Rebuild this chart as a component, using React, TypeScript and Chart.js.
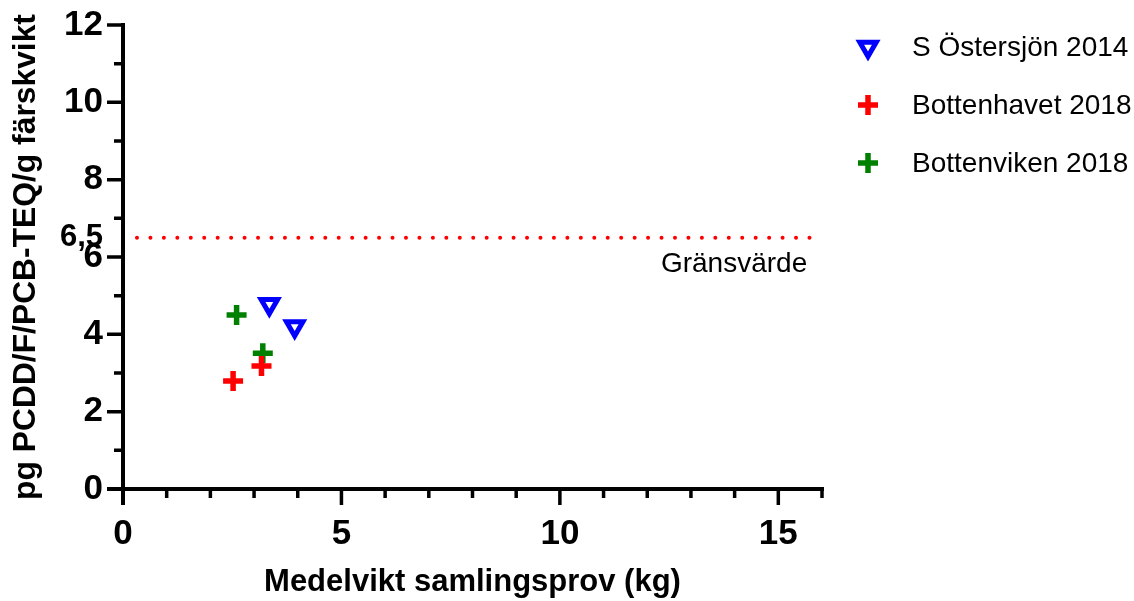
import React, { useEffect, useRef } from 'react';
import { Chart, registerables } from 'chart.js';

Chart.register(...registerables);

// ---- Data ----
const seriesNames = ['S Östersjön 2014', 'Bottenhavet 2018', 'Bottenviken 2018'];
const seriesColors = ['#0000FF', '#FF0000', '#008000'];
const ostersjonX = [3.35, 3.93];
const ostersjonY = [4.78, 4.2];
const bottenhavetX = [2.52, 3.17];
const bottenhavetY = [2.79, 3.18];
const bottenvikenX = [2.6, 3.2];
const bottenvikenY = [4.5, 3.51];

const thresholdValue = 6.5;
const thresholdLabel = '6,5';
const thresholdText = 'Gränsvärde';
const thresholdXRange = [0.32, 15.73];

const xTitle = 'Medelvikt samlingsprov (kg)';
const yTitle = 'pg PCDD/F/PCB-TEQ/g färskvikt';
const xMin = 0;
const xMax = 16;
const yMin = 0;
const yMax = 12;
const xLabelEvery = 5;
const yLabelEvery = 2;

const FONT = "'Liberation Sans', Arial, sans-serif";

const toPoints = (xs: number[], ys: number[]) => xs.map((x, i) => ({ x, y: ys[i] }));

const MAJOR = 16;
const MINOR = 9;
const TRI_R = 9.5;
const TRI_W = 5;
const CROSS_R = 10;
const CROSS_W = 5.5;

const axesPlugin = {
  id: 'prismAxes',
  beforeDatasetsDraw(chart: any) {
    const { ctx, scales } = chart;
    const xs = scales.x;
    const ys = scales.y;
    const x0 = xs.getPixelForValue(xMin);
    const y0 = ys.getPixelForValue(yMin);
    const xEnd = xs.getPixelForValue(xMax);
    const yTop = ys.getPixelForValue(yMax);
    ctx.save();
    ctx.strokeStyle = '#000';
    ctx.lineCap = 'butt';
    ctx.lineWidth = 4;
    ctx.beginPath();
    ctx.moveTo(x0, yTop - 2);
    ctx.lineTo(x0, y0 + MAJOR);
    ctx.moveTo(x0 - MAJOR, y0);
    ctx.lineTo(xEnd + 2, y0);
    ctx.stroke();
    ctx.lineWidth = 3.5;
    ctx.beginPath();
    for (let v = yMin + 1; v <= yMax; v++) {
      const len = v % yLabelEvery === 0 ? MAJOR : MINOR;
      const py = ys.getPixelForValue(v);
      ctx.moveTo(x0, py);
      ctx.lineTo(x0 - len, py);
    }
    for (let v = xMin + 1; v <= xMax; v++) {
      const len = v % xLabelEvery === 0 ? MAJOR : MINOR;
      const px = xs.getPixelForValue(v);
      ctx.moveTo(px, y0);
      ctx.lineTo(px, y0 + len);
    }
    ctx.stroke();
    ctx.restore();
  },
  afterDraw(chart: any) {
    const { ctx, scales } = chart;
    const xs = scales.x;
    const ys = scales.y;
    ctx.save();
    // threshold text
    ctx.fillStyle = '#000';
    ctx.font = `28px ${FONT}`;
    ctx.textBaseline = 'middle';
    ctx.textAlign = 'right';
    ctx.fillText(thresholdText, xs.getPixelForValue(thresholdXRange[1]) - 3, ys.getPixelForValue(thresholdValue) + 27);

    // legend
    const lx = 868;
    const tx = 912;
    const rows = [47, 105, 163];
    ctx.font = `28px ${FONT}`;
    ctx.textAlign = 'left';
    seriesNames.forEach((name, i) => {
      const cy = rows[i];
      ctx.strokeStyle = seriesColors[i];
      ctx.lineJoin = 'miter';
      ctx.beginPath();
      if (i === 0) {
        ctx.lineWidth = TRI_W;
        for (let k = 0; k < 3; k++) {
          const a = Math.PI + (k * 2 * Math.PI) / 3;
          const px = lx + Math.sin(a) * TRI_R;
          const py = cy - Math.cos(a) * TRI_R;
          if (k === 0) ctx.moveTo(px, py);
          else ctx.lineTo(px, py);
        }
        ctx.closePath();
      } else {
        ctx.lineWidth = CROSS_W;
        ctx.moveTo(lx - CROSS_R, cy);
        ctx.lineTo(lx + CROSS_R, cy);
        ctx.moveTo(lx, cy - CROSS_R);
        ctx.lineTo(lx, cy + CROSS_R);
      }
      ctx.stroke();
      ctx.fillStyle = '#000';
      ctx.fillText(name, tx, cy + 1);
    });
    ctx.restore();
  },
};

export default function App() {
  const canvasRef = useRef<HTMLCanvasElement | null>(null);

  useEffect(() => {
    if (!canvasRef.current) return;
    const chart = new Chart(canvasRef.current, {
      type: 'scatter',
      data: {
        datasets: [
          {
            label: seriesNames[0],
            data: toPoints(ostersjonX, ostersjonY),
            pointStyle: 'triangle',
            rotation: 180,
            pointRadius: TRI_R,
            borderWidth: TRI_W,
            borderColor: seriesColors[0],
            backgroundColor: 'rgba(0,0,0,0)',
          },
          {
            label: seriesNames[1],
            data: toPoints(bottenhavetX, bottenhavetY),
            pointStyle: 'cross',
            pointRadius: CROSS_R,
            borderWidth: CROSS_W,
            borderColor: seriesColors[1],
            backgroundColor: seriesColors[1],
          },
          {
            label: seriesNames[2],
            data: toPoints(bottenvikenX, bottenvikenY),
            pointStyle: 'cross',
            pointRadius: CROSS_R,
            borderWidth: CROSS_W,
            borderColor: seriesColors[2],
            backgroundColor: seriesColors[2],
          },
          {
            type: 'line',
            label: thresholdText,
            data: [
              { x: thresholdXRange[0], y: thresholdValue },
              { x: thresholdXRange[1], y: thresholdValue },
            ],
            borderColor: '#FF0000',
            borderWidth: 4,
            borderDash: [0, 13.45],
            borderCapStyle: 'round',
            pointRadius: 0,
            fill: false,
          } as any,
        ],
      },
      options: {
        animation: false,
        responsive: true,
        maintainAspectRatio: false,
        events: [],
        layout: { padding: { left: 0, top: 25, right: 312, bottom: 0 } },
        plugins: { legend: { display: false }, tooltip: { enabled: false } },
        scales: {
          x: {
            type: 'linear',
            min: xMin,
            max: xMax,
            grid: {
              display: true,
              drawOnChartArea: false,
              drawTicks: true,
              tickLength: 24,
              tickColor: 'rgba(0,0,0,0)',
              color: 'rgba(0,0,0,0)',
            },
            border: { display: false },
            ticks: {
              stepSize: 1,
              autoSkip: false,
              maxRotation: 0,
              padding: 0,
              color: '#000',
              font: { family: FONT, size: 35, weight: 'bold' },
              callback: (v: any) => (Number(v) % xLabelEvery === 0 ? String(v) : ''),
            },
            title: {
              display: true,
              text: xTitle,
              color: '#000',
              font: { family: FONT, size: 31, weight: 'bold' },
              padding: { top: 0, bottom: 0 },
            },
            afterFit: (s: any) => {
              s.height = 112;
            },
          },
          y: {
            type: 'linear',
            min: yMin,
            max: yMax,
            grid: {
              display: true,
              drawOnChartArea: false,
              drawTicks: true,
              tickLength: 20,
              tickColor: 'rgba(0,0,0,0)',
              color: 'rgba(0,0,0,0)',
            },
            border: { display: false },
            ticks: {
              stepSize: 1,
              autoSkip: false,
              padding: 0,
              color: '#000',
              font: (c: any) => ({
                family: FONT,
                size: c.tick && c.tick.value === thresholdValue ? 31 : 35,
                weight: 'bold',
              }),
              callback: (v: any) => {
                const n = Number(v);
                if (n === thresholdValue) return thresholdLabel;
                return n % yLabelEvery === 0 ? String(n) : '';
              },
            },
            afterBuildTicks: (s: any) => {
              s.ticks.push({ value: thresholdValue });
              s.ticks.sort((a: any, b: any) => a.value - b.value);
            },
            title: {
              display: true,
              text: yTitle,
              color: '#000',
              font: { family: FONT, size: 31.8, weight: 'bold' },
              padding: { top: 7, bottom: 0 },
            },
            afterFit: (s: any) => {
              s.width = 123;
            },
          },
        },
      },
      plugins: [axesPlugin],
    } as any);
    return () => chart.destroy();
  }, []);

  return (
    <div style={{ position: 'fixed', left: 0, top: 0, width: 1134, height: 601, background: '#fff' }}>
      <canvas ref={canvasRef} />
    </div>
  );
}
